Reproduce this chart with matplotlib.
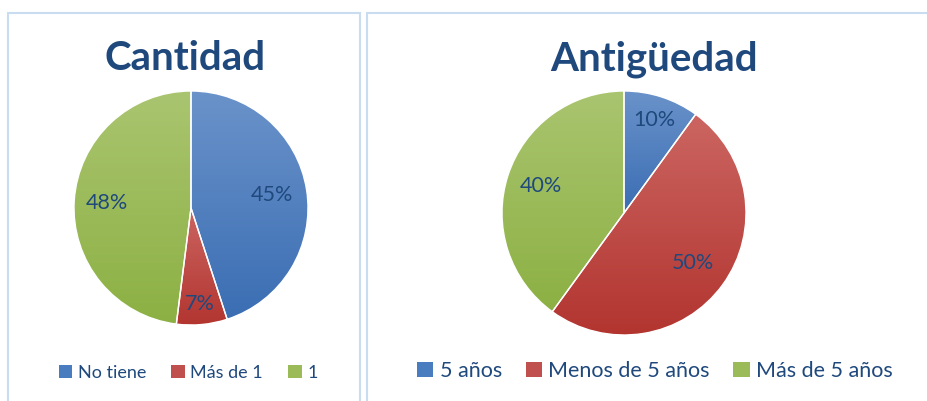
import numpy as np
import matplotlib
matplotlib.use("Agg")
import matplotlib.pyplot as plt
from matplotlib.patches import Rectangle, Patch
from matplotlib.colors import LinearSegmentedColormap

plt.rcParams['font.family'] = ['Lato', 'DejaVu Sans']

# ---- data ----
cant_labels = ["No tiene", "Más de 1", "1"]
cant_values = [45, 7, 48]
ant_labels = ["5 años", "Menos de 5 años", "Más de 5 años"]
ant_values = [10, 50, 40]

# colours: (dark bottom, light top, legend)
blue = ("#3A6DB3", "#6B93CA", "#4A7CC0")
red = ("#B2342F", "#CC6662", "#C0504D")
green = ("#8CB043", "#AAC570", "#9BBB59")
colors = [blue, red, green]
text_col = "#1F497D"

W, H = 927, 401
fig = plt.figure(figsize=(W / 100, H / 100), dpi=100)

# panel borders
for x0, x1 in [(8, 360), (367, 940)]:
    fig.add_artist(Rectangle((x0 / W, -0.1), (x1 - x0) / W, 1.1 - 13 / H,
                             transform=fig.transFigure, facecolor="none",
                             edgecolor="#C9DCF0", lw=1.5))


def draw_pie(cx, cy, r, values, labels, title, tx, ty, lab_dist, leg_x, leg_y,
             colspace, leg_fs, lab_fs):
    ax = fig.add_axes([(cx - r) / W, (H - cy - r) / H, 2 * r / W, 2 * r / H])
    wedges, _ = ax.pie(values, startangle=90, counterclock=False, radius=1,
                       wedgeprops=dict(facecolor="none", edgecolor="white", lw=1, zorder=3))
    for w, c, d, v in zip(wedges, colors, lab_dist, values):
        ang = np.linspace(w.theta1, w.theta2, 100)
        ys = np.concatenate([np.sin(np.radians(ang)), [0]])
        ymin, ymax = ys.min(), ys.max()
        cmap = LinearSegmentedColormap.from_list("g", [c[0], c[1]])
        grad = np.linspace(0, 1, 256).reshape(-1, 1)
        im = ax.imshow(grad, extent=(-1.02, 1.02, ymin - 0.02, ymax + 0.02), origin="lower",
                       cmap=cmap, aspect="auto", zorder=2, interpolation="bilinear")
        im.set_clip_path(w)
        mid = np.radians((w.theta1 + w.theta2) / 2)
        ax.text(d * np.cos(mid), d * np.sin(mid), f"{v}%", ha="center", va="center",
                fontsize=lab_fs, color=text_col, zorder=5)
    ax.set_xlim(-1.0, 1.0)
    ax.set_ylim(-1.0, 1.0)
    ax.set_aspect("auto")
    ax.axis("off")
    fig.text(tx / W, 1 - ty / H, title, ha="center", va="center", fontsize=29,
             fontweight="bold", color=text_col)
    handles = [Patch(facecolor=c[2], edgecolor="none") for c in colors]
    leg = fig.legend(handles, labels, loc="center", bbox_to_anchor=(leg_x / W, 1 - leg_y / H),
                     ncol=3, frameon=False, fontsize=leg_fs, handlelength=0.75,
                     handleheight=0.75, handletextpad=0.3, columnspacing=colspace)
    for t in leg.get_texts():
        t.set_color(text_col)


draw_pie(191, 208, 117, cant_values, cant_labels, "Cantidad", 185, 58,
         [0.70, 0.82, 0.72], 188, 373, 1.4, 13, 15.5)
draw_pie(624, 213, 122, ant_values, ant_labels, "Antigüedad", 654, 59,
         [0.80, 0.70, 0.72], 655, 371, 1.1, 15.5, 15.5)

fig.savefig("out.png", dpi=100)
